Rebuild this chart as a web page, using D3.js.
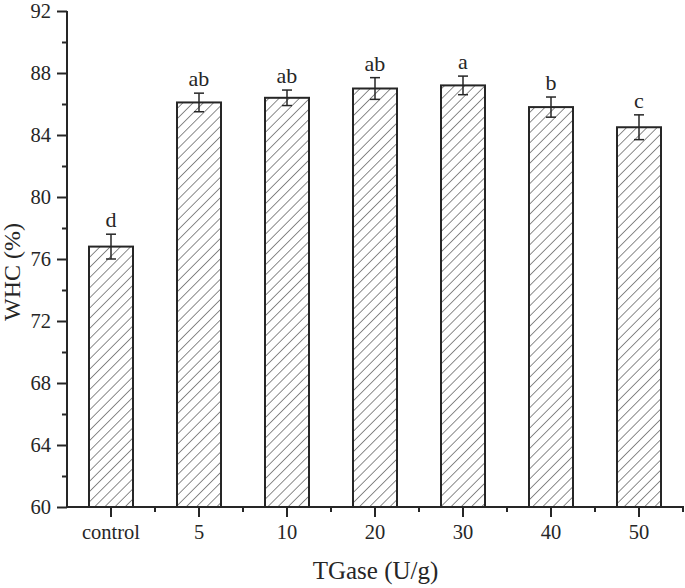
<!DOCTYPE html>
<html><head><meta charset="utf-8">
<script src="https://cdn.jsdelivr.net/npm/d3@7"></script>
<style>body{margin:0;background:#fff}svg{display:block}</style>
</head><body>
<script>
const categories = ["control","5","10","20","30","40","50"];
const values = [76.8, 86.1, 86.4, 87.0, 87.2, 85.8, 84.5];
const errors = [0.8, 0.6, 0.5, 0.7, 0.6, 0.65, 0.8];
const letters = ["d","ab","ab","ab","a","b","c"];
const yTicks = [60,64,68,72,76,80,84,88,92];
const yMinor = [62,66,70,74,78,82,86,90];

const W = 685, H = 588;
const svg = d3.select("body").append("svg").attr("width", W).attr("height", H);
const font = "'Liberation Serif', 'Times New Roman', serif";
const ink = "#262626";

const x = d3.scaleBand().domain(categories).range([67, 683]).paddingInner(0.5).paddingOuter(0.25);
const y = d3.scaleLinear().domain([60, 92]).range([507, 11]);

const defs = svg.append("defs");
const pat = defs.append("pattern").attr("id","hatch").attr("patternUnits","userSpaceOnUse")
  .attr("width", 7.2).attr("height", 7.2).attr("patternTransform","rotate(45)");
pat.append("rect").attr("width",7.2).attr("height",7.2).attr("fill","#fff");
pat.append("line").attr("x1",0).attr("y1",0).attr("x2",0).attr("y2",7.2)
  .attr("stroke","#2e2e2e").attr("stroke-width",1.1);

// bars
svg.selectAll("rect.bar").data(categories).join("rect").attr("class","bar")
  .attr("x", d => x(d)).attr("width", x.bandwidth())
  .attr("y", (d,i) => y(values[i])).attr("height", (d,i) => y(60) - y(values[i]))
  .attr("fill","url(#hatch)").attr("stroke", ink).attr("stroke-width", 2);

// error bars
const eb = svg.append("g").attr("stroke", ink).attr("stroke-width", 1.5);
categories.forEach((c,i) => {
  const cx = x(c) + x.bandwidth()/2;
  const t = y(values[i]+errors[i]), b = y(values[i]-errors[i]);
  eb.append("line").attr("x1",cx).attr("x2",cx).attr("y1",t).attr("y2",b);
  eb.append("line").attr("x1",cx-5).attr("x2",cx+5).attr("y1",t).attr("y2",t);
  eb.append("line").attr("x1",cx-5).attr("x2",cx+5).attr("y1",b).attr("y2",b);
  svg.append("text").attr("x", cx).attr("y", t - 7).attr("text-anchor","middle")
    .attr("font-family", font).attr("font-size", 22).attr("fill", ink).text(letters[i]);
});

// y axis
const yAxis = svg.append("g").attr("transform","translate(67,0)")
  .call(d3.axisLeft(y).tickValues(yTicks).tickSize(10).tickPadding(6).tickFormat(d3.format("d")));
svg.append("g").attr("transform","translate(67,0)")
  .call(d3.axisLeft(y).tickValues(yMinor).tickSize(5).tickFormat(""))
  .call(g => g.select(".domain").remove());

// x axis
const xAxis = svg.append("g").attr("transform","translate(0,507)")
  .call(d3.axisBottom(x).tickSize(10).tickPadding(7).tickSizeOuter(0));
const minorX = categories.map(c => x(c) + x.bandwidth()/2 + x.step()/2);
svg.append("g").selectAll("line").data(minorX).join("line")
  .attr("x1", d => d).attr("x2", d => d).attr("y1", 507).attr("y2", 512)
  .attr("stroke", ink).attr("stroke-width", 2);

svg.selectAll(".tick line").attr("stroke", ink).attr("stroke-width", 2);
svg.selectAll(".domain").attr("stroke", ink).attr("stroke-width", 2);
svg.selectAll(".tick text").attr("font-family", font).attr("font-size", 20.5).attr("fill", ink);
yAxis.select(".domain").attr("d","M0,507V11");
xAxis.select(".domain").attr("d","M66,0H684");

// titles
svg.append("text").attr("x", 375.5).attr("y", 579).attr("text-anchor","middle")
  .attr("font-family", font).attr("font-size", 25).attr("fill", ink).text("TGase (U/g)");
svg.append("text").attr("transform","translate(20,272) rotate(-90)").attr("text-anchor","middle")
  .attr("font-family", font).attr("font-size", 24).attr("fill", ink).text("WHC (%)");
</script>
</body></html>
